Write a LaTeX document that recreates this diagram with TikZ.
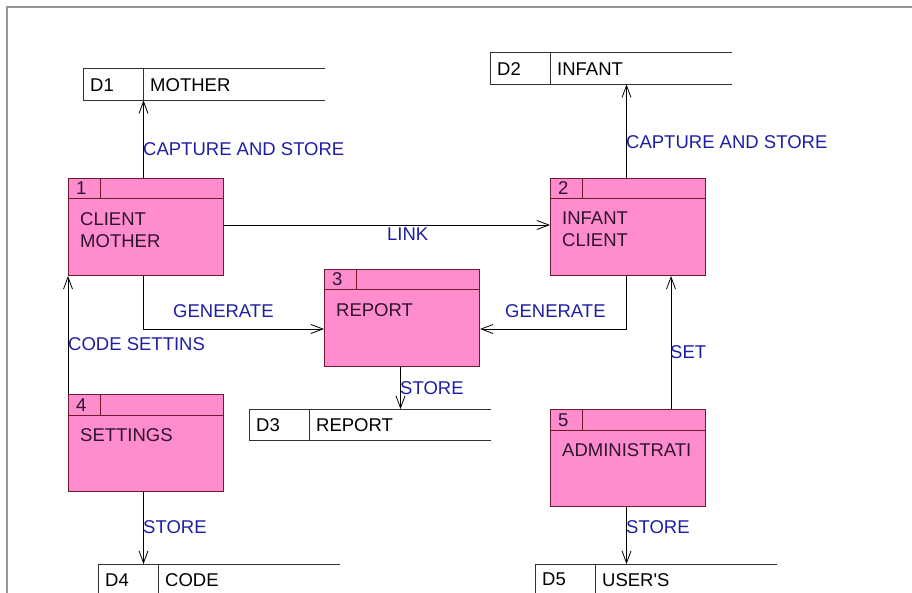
\documentclass[tikz,border=0pt]{standalone}
\usepackage{fontspec}
\setmainfont{Liberation Sans}
\usetikzlibrary{arrows.meta,calc}
\definecolor{pfill}{RGB}{255,140,204}
\definecolor{pline}{RGB}{110,25,45}
\definecolor{ptext}{RGB}{45,20,45}
\definecolor{lblue}{RGB}{30,30,165}
\definecolor{sline}{RGB}{50,50,50}
\definecolor{frame}{RGB}{150,150,150}
\tikzset{
  procbox/.style={draw=pline, fill=pfill, line width=1pt, minimum width=155pt, minimum height=97pt, inner sep=0pt, anchor=north west},
  procline/.style={draw=pline, line width=1pt},
  numtxt/.style={anchor=base west, inner sep=0pt, text=ptext, font=\fontsize{18.5}{22}\selectfont},
  nametxt/.style={anchor=north west, inner sep=0pt, align=left, text=ptext, font=\fontsize{18.5}{22}\selectfont},
  storebox/.style={minimum width=242pt, minimum height=31pt, inner sep=0pt, anchor=north west},
  storeline/.style={draw=sline, line width=1pt},
  stxt/.style={anchor=west, inner sep=0pt, text=black, font=\fontsize{18.5}{22}\selectfont},
  flow/.style={draw=black, line width=0.8pt, -{Straight Barb[length=12pt,width=9pt,line width=0.8pt]}},
  lbl/.style={anchor=west, inner sep=0pt, text=lblue, font=\fontsize{18.5}{22}\selectfont},
}
\newcommand\mkproc[4]{%
  \node[procbox] (#1) at (#2) {};
  \draw[procline] ([yshift=-21pt]#1.north west) -- ([yshift=-21pt]#1.north east);
  \draw[procline] ([xshift=32pt]#1.north west) -- ([xshift=32pt,yshift=-21pt]#1.north west);
  \node[numtxt] (#1n) at ([xshift=8pt,yshift=-17pt]#1.north west) {#3};
  \node[nametxt] (#1t) at ([xshift=12pt,yshift=-34pt]#1.north west) {#4};
}
\newcommand\mkstore[4]{%
  \node[storebox] (#1) at (#2) {};
  \draw[storeline] (#1.north east) -- (#1.north west) -- (#1.south west) -- (#1.south east);
  \draw[storeline] ([xshift=60pt]#1.north west) -- ([xshift=60pt]#1.south west);
  \node[stxt] (#1a) at ([xshift=7pt]#1.west) {#3};
  \node[stxt] (#1b) at ([xshift=67pt]#1.west) {#4};
}
\begin{document}
\begin{tikzpicture}[x=1pt,y=-1pt]
\useasboundingbox (0,0) rectangle (912,593);
\begin{scope}
\clip (0,0) rectangle (912,593);
\draw[frame, line width=1.6pt] (7,593) -- (7,7) -- (912,7);

\mkstore{d1}{83,69}{D1}{MOTHER}
\mkstore{d2}{490,53}{D2}{INFANT}
\mkstore{d3}{249,409}{D3}{REPORT}
\mkstore{d4}{98,564}{D4}{CODE}
\mkstore{d5}{535,564}{D5}{USER\textquotesingle S}

\mkproc{p1}{68,178}{1}{CLIENT\\MOTHER}
\mkproc{p2}{550,178}{2}{INFANT\\CLIENT}
\mkproc{p3}{324,269}{3}{REPORT}
\mkproc{p4}{68,394}{4}{SETTINGS}
\mkproc{p5}{550,409}{5}{ADMINISTRATI}

\draw[flow] ([xshift=-2.5pt]p1.north) -- ([xshift=-2.5pt]p1.north |- d1.south);
\draw[flow] ([xshift=-1.5pt]p2.north) -- ([xshift=-1.5pt]p2.north |- d2.south);
\draw[flow] ([yshift=2pt]p1.east) -- ([yshift=2pt]p2.west);
\draw[flow] ([xshift=-2.5pt]p1.south) |- ([yshift=-11pt]p3.west);
\draw[flow] ([xshift=-1.5pt]p2.south) |- ([yshift=-11pt]p3.east);
\draw[flow] ([xshift=-1.5pt]p3.south) -- ([xshift=-1.5pt]p3.south |- d3.north);
\draw[flow] (p4.north west) -- (p1.south west);
\draw[flow] ([xshift=-2.5pt]p4.south) -- ([xshift=-2.5pt]p4.south |- d4.north);
\draw[flow] ([xshift=43pt]p5.north) -- ([xshift=43pt]p2.south);
\draw[flow] ([xshift=-1.5pt]p5.south) -- ([xshift=-1.5pt]p5.south |- d5.north);

\node[lbl] (l1) at (143,149) {CAPTURE AND STORE};
\node[lbl] (l2) at (626,142) {CAPTURE AND STORE};
\node[lbl] (l3) at (387,234) {LINK};
\node[lbl] (l4) at (173,311) {GENERATE};
\node[lbl] (l5) at (505,311) {GENERATE};
\node[lbl] (l6) at (400,388) {STORE};
\node[lbl] (l7) at (68,344) {CODE SETTINS};
\node[lbl] (l8) at (143,527) {STORE};
\node[lbl] (l9) at (670,352) {SET};
\node[lbl] (l10) at (626,527) {STORE};
\end{scope}
\end{tikzpicture}
\end{document}
